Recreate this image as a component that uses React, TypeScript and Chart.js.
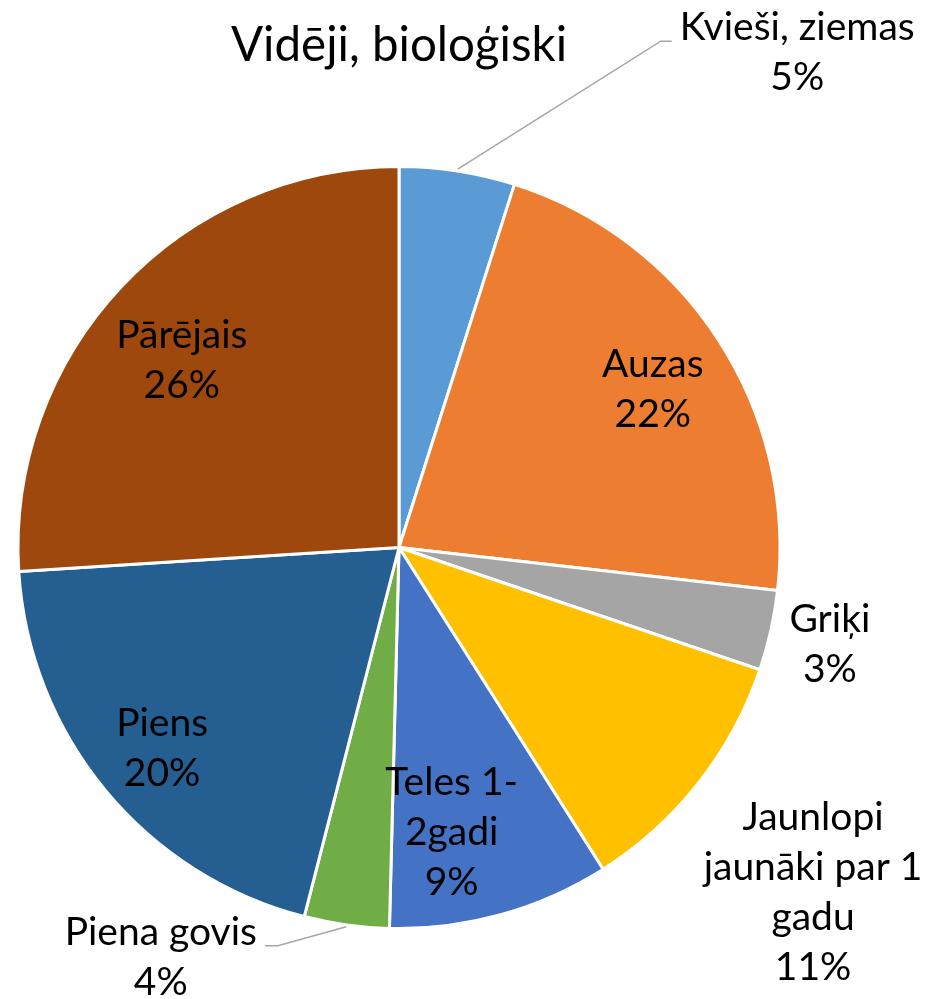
import React, { useEffect, useRef } from "react";
import { Chart, registerables } from "chart.js";

Chart.register(...registerables);

const TITLE = "Vidēji, bioloģiski";
const categories = [
  "Kvieši, ziemas",
  "Auzas",
  "Griķi",
  "Jaunlopi jaunāki par 1 gadu",
  "Teles 1-2gadi",
  "Piena govis",
  "Piens",
  "Pārējais",
];
const labelLines = [
  ["Kvieši, ziemas"],
  ["Auzas"],
  ["Griķi"],
  ["Jaunlopi", "jaunāki par 1", "gadu"],
  ["Teles 1-", "2gadi"],
  ["Piena govis"],
  ["Piens"],
  ["Pārējais"],
];
const shares = [4.9, 21.9, 3.4, 10.8, 9.4, 3.6, 20.0, 26.0];
const colors = [
  "#5B9BD5",
  "#ED7D31",
  "#A5A5A5",
  "#FFC000",
  "#4472C4",
  "#70AD47",
  "#255E91",
  "#9E480E",
];

// label placement (inside: radial factor + angle tweak; outside: auto; polar/leader: polar position of label block)
const placement: any[] = [
  { mode: "leader", angle: 38.8, r: 1.668 },
  { mode: "inside", r: 0.786, dA: 0.9 },
  { mode: "outside" },
  { mode: "polar", angle: 129.8, r: 1.4145 },
  { mode: "inside", r: 0.76, dA: 5 },
  { mode: "leader", angle: 210.2, r: 1.243 },
  { mode: "inside", r: 0.814, dA: -0.6 },
  { mode: "inside", r: 0.753, dA: -2.4 },
];

const FONT = "Lato, 'Open Sans', sans-serif";
const LABEL_SIZE = 39;
const TITLE_SIZE = 47.5;
const LINE_H = 50;

const labelPlugin = {
  id: "customLabels",
  afterDraw(chart: any) {
    const ctx = chart.ctx as CanvasRenderingContext2D;
    const meta = chart.getDatasetMeta(0);
    const a0: any = meta.data[0];
    const cx = a0.x;
    const cy = a0.y;
    const R = a0.outerRadius;
    const total = shares.reduce((s, v) => s + v, 0);
    ctx.save();
    ctx.fillStyle = "#000";
    ctx.textAlign = "center";
    ctx.textBaseline = "alphabetic";
    ctx.font = `${TITLE_SIZE}px ${FONT}`;
    ctx.fillText(TITLE, cx, 61);

    ctx.font = `${LABEL_SIZE}px ${FONT}`;
    meta.data.forEach((arc: any, i: number) => {
      const mid = (arc.startAngle + arc.endAngle) / 2;
      const lines = [...labelLines[i], Math.round((shares[i] / total) * 100) + "%"];
      const w = Math.max(...lines.map((l) => ctx.measureText(l).width));
      const h = lines.length * LINE_H;
      const p = placement[i];
      let lx = 0;
      let ly = 0;
      if (p.mode === "inside") {
        const a = mid + (p.dA * Math.PI) / 180;
        lx = cx + Math.cos(a) * R * p.r;
        ly = cy + Math.sin(a) * R * p.r;
      } else if (p.mode === "outside") {
        let d = R;
        for (; d < R * 3; d += 0.5) {
          const x = cx + Math.cos(mid) * d;
          const y = cy + Math.sin(mid) * d;
          const x0 = x - w / 2, x1 = x + w / 2, y0 = y - h / 2, y1 = y + h / 2;
          const dx = Math.max(x0 - cx, 0, cx - x1);
          const dy = Math.max(y0 - cy, 0, cy - y1);
          if (Math.sqrt(dx * dx + dy * dy) >= R + 12) break;
        }
        lx = cx + Math.cos(mid) * d;
        ly = cy + Math.sin(mid) * d;
      } else {
        const a = -Math.PI / 2 + (p.angle * Math.PI) / 180;
        lx = cx + Math.cos(a) * R * p.r;
        ly = cy + Math.sin(a) * R * p.r;
      }
      const firstBase = ly - ((lines.length - 1) * LINE_H) / 2 + 13;
      lines.forEach((l, k) => ctx.fillText(l, lx, firstBase + k * LINE_H));
      if (p.mode === "leader") {
        const right = lx > cx;
        const edge = right ? lx - w / 2 - 8 : lx + w / 2 + 8;
        const elbow = right ? edge - 11 : edge + 13;
        const sx = cx + Math.cos(mid) * (R + 2);
        const sy = cy + Math.sin(mid) * (R + 2);
        ctx.strokeStyle = "#A6A6A6";
        ctx.lineWidth = 1.5;
        ctx.beginPath();
        ctx.moveTo(edge, firstBase + 1);
        ctx.lineTo(elbow, firstBase + 1);
        ctx.lineTo(sx, sy);
        ctx.stroke();
      }
    });
    ctx.restore();
  },
};

export default function App() {
  const ref = useRef<HTMLCanvasElement>(null);
  useEffect(() => {
    if (!ref.current) return;
    const chart = new Chart(ref.current, {
      type: "pie",
      data: {
        labels: categories,
        datasets: [
          {
            data: shares,
            backgroundColor: colors,
            borderColor: "#FFFFFF",
            borderWidth: 3,
            radius: 381,
          } as any,
        ],
      },
      options: {
        animation: false,
        responsive: false,
        devicePixelRatio: 1,
        layout: { padding: { left: 0, right: 134, top: 96, bottom: 0 } },
        plugins: {
          legend: { display: false },
          title: { display: false },
          tooltip: { enabled: false },
        },
      },
      plugins: [labelPlugin],
    });
    return () => chart.destroy();
  }, []);
  return (
    <div style={{ position: "absolute", left: 0, top: 0, width: 932, height: 999, background: "#fff" }}>
      <canvas ref={ref} width={932} height={999} style={{ display: "block" }} />
    </div>
  );
}
